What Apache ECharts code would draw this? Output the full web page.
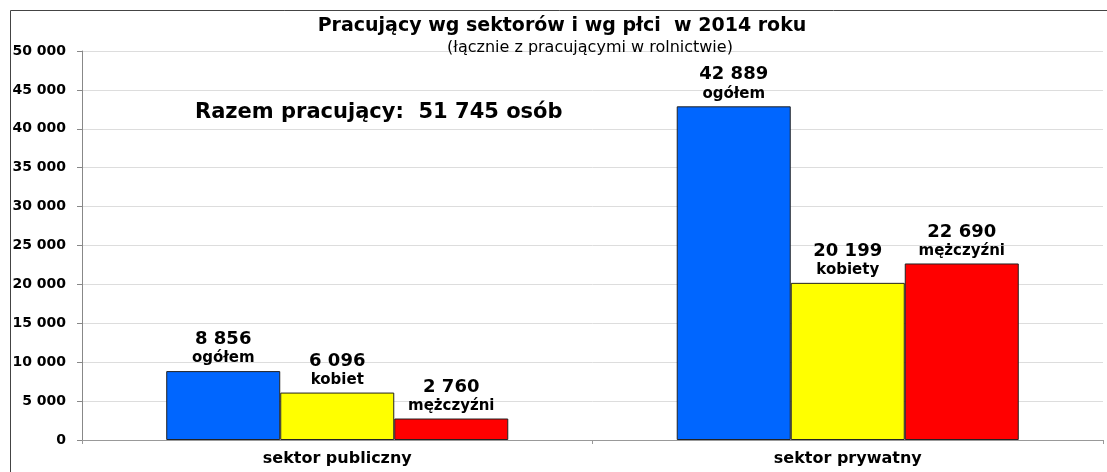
<!DOCTYPE html>
<html><head><meta charset="utf-8">
<script src="https://cdn.jsdelivr.net/npm/echarts@6/dist/echarts.min.js"></script>
<style>html,body{margin:0;padding:0;background:#fff}#c{width:1107px;height:472px}</style>
</head><body><div id="c"></div>
<script>
const categories = ['sektor publiczny', 'sektor prywatny'];
const ogolem = [8856, 42889];
const kobiety = [6096, 20199];
const mezczyzni = [2760, 22690];
const ogolemNames = ['ogółem', 'ogółem'];
const kobietyNames = ['kobiet', 'kobiety'];
const mezczyzniNames = ['mężczyźni', 'mężczyźni'];
const yTicks = [0, 5000, 10000, 15000, 20000, 25000, 30000, 35000, 40000, 45000, 50000];
const titleText = 'Pracujący wg sektorów i wg płci  w 2014 roku';
const subtitleText = '(łącznie z pracującymi w rolnictwie)';
const totalText = 'Razem pracujący:  51 745 osób';

const fmt = v => String(v).replace(/\B(?=(\d{3})+(?!\d))/g, ' ');
const FONT = '"DejaVu Sans", "Liberation Sans", Arial, sans-serif';

function mk(name, vals, names, color) {
  return {
    name, type: 'bar', barGap: '0%', barCategoryGap: '33%',
    data: vals.map((v, i) => ({ value: v, lname: names[i] })),
    itemStyle: { color, borderColor: '#222', borderWidth: 1 },
    label: {
      show: true, position: 'top', distance: 4,
      formatter: p => '{v|' + fmt(p.value) + '}\n{n|' + p.data.lname + '}',
      rich: {
        v: { fontFamily: FONT, fontWeight: 'bold', fontSize: 18, color: '#000', lineHeight: 21 },
        n: { fontFamily: FONT, fontWeight: 'bold', fontSize: 15, color: '#000', lineHeight: 17 }
      }
    }
  };
}

const chart = echarts.init(document.getElementById('c'));
chart.setOption({
  animation: false,
  backgroundColor: '#fff',
  grid: { left: 82, right: 4, top: 51, bottom: 32, containLabel: false },
  title: [
    { text: titleText, left: 557, top: 12, textAlign: 'center', textStyle: { fontFamily: FONT, fontWeight: 'bold', fontSize: 19, color: '#000' } },
    { text: subtitleText, left: 585, top: 35, textAlign: 'center', textStyle: { fontFamily: FONT, fontWeight: 'normal', fontSize: 16, color: '#000' } },
    { text: totalText, left: 190, top: 97, textStyle: { fontFamily: FONT, fontWeight: 'bold', fontSize: 21, color: '#000' } }
  ],
  xAxis: {
    type: 'category', data: categories,
    axisLine: { lineStyle: { color: '#999' } },
    axisTick: { show: true, lineStyle: { color: '#999' }, length: 4 },
    axisLabel: { fontFamily: FONT, fontWeight: 'bold', fontSize: 16, color: '#000', margin: 11 }
  },
  yAxis: {
    type: 'value', min: 0, max: 50000, interval: 5000,
    axisLine: { show: true, lineStyle: { color: '#888' } },
    axisTick: { show: true, length: 5, lineStyle: { color: '#888' } },
    splitLine: { lineStyle: { color: '#ddd' } },
    axisLabel: { fontFamily: FONT, fontWeight: 'bold', fontSize: 14, color: '#000', margin: 16, formatter: v => fmt(v) }
  },
  series: [
    mk('ogółem', ogolem, ogolemNames, '#0066FF'),
    mk('kobiety', kobiety, kobietyNames, '#FFFF00'),
    mk('mężczyźni', mezczyzni, mezczyzniNames, '#FF0000')
  ],
  graphic: [
    { type: 'rect', left: 8, top: 8, shape: { width: 1105, height: 470 }, style: { fill: 'none', stroke: '#444', lineWidth: 1 }, silent: true }
  ]
});
</script></body></html>
